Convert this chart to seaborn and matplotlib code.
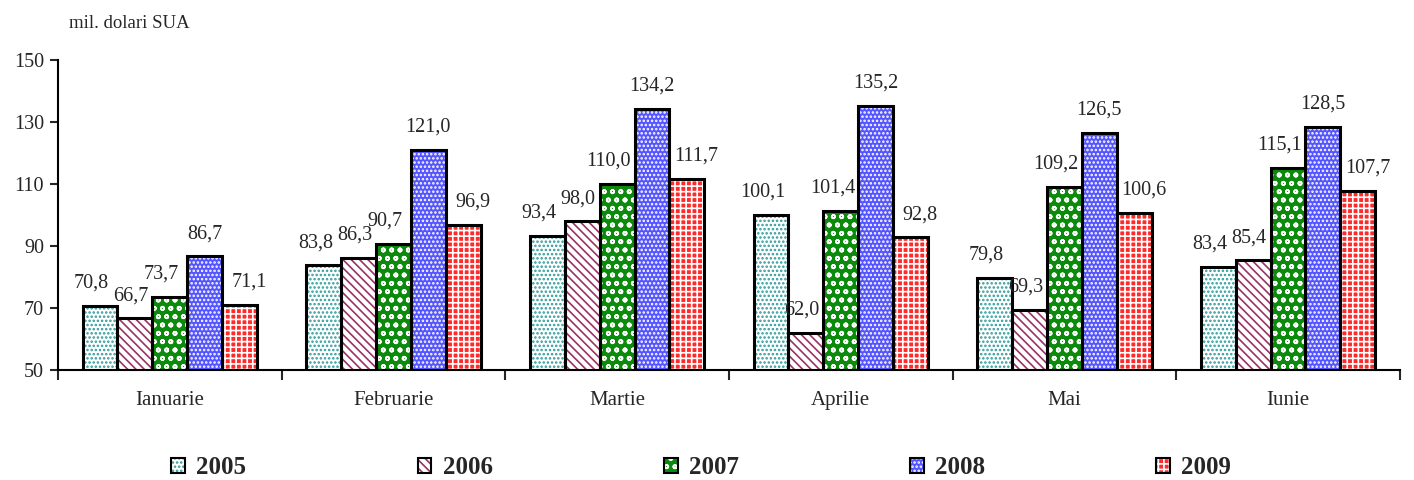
import matplotlib
matplotlib.use("Agg")
import matplotlib.pyplot as plt
from matplotlib.patches import Patch
from matplotlib.legend_handler import HandlerTuple
import seaborn as sns
import pandas as pd

# date
luni = ['Ianuarie', 'Februarie', 'Martie', 'Aprilie', 'Mai', 'Iunie']
ani = ['2005', '2006', '2007', '2008', '2009']
v2005 = [70.8, 83.8, 93.4, 100.1, 79.8, 83.4]
v2006 = [66.7, 86.3, 98.0, 62.0, 69.3, 85.4]
v2007 = [73.7, 90.7, 110.0, 101.4, 109.2, 115.1]
v2008 = [86.7, 121.0, 134.2, 135.2, 126.5, 128.5]
v2009 = [71.1, 96.9, 111.7, 92.8, 100.6, 107.7]
y_ticks = [50, 70, 90, 110, 130, 150]

serii = [v2005, v2006, v2007, v2008, v2009]
rows = []
for an, vals in zip(ani, serii):
    for luna, v in zip(luni, vals):
        rows.append({'luna': luna, 'an': an, 'valoare': v})
df = pd.DataFrame(rows)

# stiluri: fundal, hasura, culoarea hasurii, deplasare eticheta (pt)
stiluri = {
    '2005': ('white', '....', '#2f9a9a', -6),
    '2006': ('white', '\\\\\\\\', '#993366', -3),
    '2007': ('#0b8a0b', 'oo', 'white', -6),
    '2008': ('#5555ff', '....', 'white', 0),
    '2009': ('#ff2a2a', '+++', 'white', 7),
}

sns.set_style('white')
plt.rcParams['font.family'] = ['Liberation Serif', 'DejaVu Serif']
plt.rcParams['hatch.linewidth'] = 1.2

fig = plt.figure(figsize=(14.14, 4.8), dpi=100)
ax = fig.add_axes([0.041, 0.229, 0.949, 0.646])

sns.barplot(data=df, x='luna', y='valoare', hue='an', order=luni, hue_order=ani,
            width=0.78, ax=ax, legend=False, errorbar=None,
            palette=['white'] * 5, saturation=1)
fill_containers = list(ax.containers)
for an, cont in zip(ani, fill_containers):
    fc, h, hc, _ = stiluri[an]
    for p in cont:
        p.set_facecolor(fc)
        p.set_hatch(h)
        p.set_edgecolor(hc)
        p.set_linewidth(0)

# contur negru
sns.barplot(data=df, x='luna', y='valoare', hue='an', order=luni, hue_order=ani,
            width=0.78, ax=ax, legend=False, errorbar=None, fill=False,
            palette=['black'] * 5, linewidth=2.2)

pad = 9.5
for an, cont in zip(ani, fill_containers):
    dx = stiluri[an][3]
    etichete = [f'{p.get_height():.1f}'.replace('.', ',') for p in cont]
    texte = ax.bar_label(cont, labels=etichete, padding=pad, fontsize=14.5)
    for t in texte:
        t.xyann = (dx, pad)
        t.set_zorder(10)

ax.set_ylim(50, 150)
ax.set_yticks(y_ticks)
ax.set_xlim(-0.5, 5.5)
ax.set_xlabel('')
ax.set_ylabel('')
ax.tick_params(axis='y', labelsize=14.5, direction='out', length=6, width=1.5, left=True, pad=4)
ax.tick_params(axis='x', which='major', labelsize=15, length=0, pad=15)
ax.set_xticks([i - 0.5 for i in range(7)], minor=True)
ax.tick_params(axis='x', which='minor', direction='out', length=7, width=1.5, bottom=True)
for s in ['top', 'right']:
    ax.spines[s].set_visible(False)
for s in ['left', 'bottom']:
    ax.spines[s].set_linewidth(1.5)
    ax.spines[s].set_color('black')

fig.text(0.049, 0.952, 'mil. dolari SUA', fontsize=13.5, va='center', ha='left')

handles = []
for an in ani:
    fc, h, hc, _ = stiluri[an]
    handles.append((Patch(facecolor=fc, hatch=h, edgecolor=hc, linewidth=0),
                    Patch(facecolor='none', edgecolor='black', linewidth=1.5)))
fig.legend(handles, ani, loc='center', bbox_to_anchor=(0.496, 0.025), ncol=5,
           frameon=False, handler_map={tuple: HandlerTuple(ndivide=1)},
           prop={'weight': 'bold', 'size': 18}, handlelength=0.55, handleheight=0.55,
           handletextpad=0.45, columnspacing=6.85, borderpad=0, borderaxespad=0)

fig.savefig('out.png', dpi=100)
